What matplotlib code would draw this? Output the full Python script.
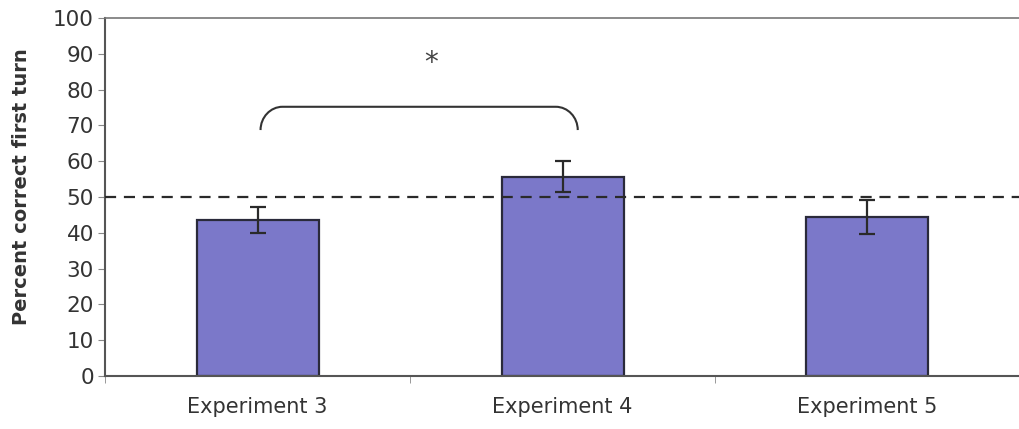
import matplotlib
matplotlib.use("Agg")
import matplotlib.pyplot as plt
from matplotlib.path import Path
from matplotlib.patches import PathPatch

categories = ["Experiment 3", "Experiment 4", "Experiment 5"]
values = [43.6, 55.7, 44.5]
errors = [3.6, 4.3, 4.7]
chance = 50
yticks = [0, 10, 20, 30, 40, 50, 60, 70, 80, 90, 100]
ylabel = "Percent correct first turn"
sig_text = "*"
brace_x = [0.01, 1.05]
brace_y = [68.7, 75.2]
sig_pos = (0.57, 87.5)

plt.rcParams['font.family'] = ['DejaVu Sans']
fig = plt.figure(figsize=(10.19, 4.29), dpi=100)
ax = fig.add_axes([105/1019, 53/429, 915/1019, 358/429])

text_col = "#333333"
x = list(range(len(categories)))
ax.bar(x, values, width=0.40, color="#7b78c9", edgecolor="#2a2a3a", linewidth=1.6, zorder=2)
ax.errorbar(x, values, yerr=errors, fmt="none", ecolor="#2a2a2a", elinewidth=1.6,
            capsize=6, capthick=1.6, zorder=4)
ax.axhline(chance, color="#2a2a2a", linestyle=(0, (5, 3.5)), linewidth=1.6, zorder=3)

ax.set_xlim(-0.5, 2.5)
ax.set_ylim(0, 100)
ax.set_yticks(yticks)
ax.set_yticklabels([str(t) for t in yticks], fontsize=15.5, color=text_col)
ax.set_xticks(x)
ax.set_xticklabels(categories, fontsize=15, color=text_col)
ax.tick_params(axis='x', which='major', length=0, pad=15)
ax.set_xticks([-0.5, 0.5, 1.5, 2.5], minor=True)
ax.tick_params(axis='x', which='minor', length=5, color="#888888")
ax.tick_params(axis='y', length=5, color="#888888", pad=3)
ax.set_ylabel(ylabel, fontsize=14, fontweight='bold', color=text_col)
ax.yaxis.set_label_coords(-0.081, 0.529)
for s in ['left', 'bottom']:
    ax.spines[s].set_color("#555555")
    ax.spines[s].set_linewidth(1.5)
ax.spines['top'].set_color("#777777")
ax.spines['top'].set_linewidth(1.2)
ax.spines['right'].set_visible(False)

# brace
x0, x1 = brace_x
yb, yt = brace_y
rx = 0.072
h = yt - yb
verts = [(x0, yb), (x0, yb + 0.55 * h), (x0 + rx * 0.45, yt), (x0 + rx, yt),
         (x1 - rx, yt), (x1 - rx * 0.45, yt), (x1, yb + 0.55 * h), (x1, yb)]
codes = [Path.MOVETO, Path.CURVE4, Path.CURVE4, Path.CURVE4,
         Path.LINETO, Path.CURVE4, Path.CURVE4, Path.CURVE4]
ax.add_patch(PathPatch(Path(verts, codes), facecolor='none', edgecolor="#333333", linewidth=1.5))
ax.text(sig_pos[0], sig_pos[1], sig_text, ha='center', va='center', fontsize=20, color="#444444")

fig.savefig("out.png", dpi=100)
